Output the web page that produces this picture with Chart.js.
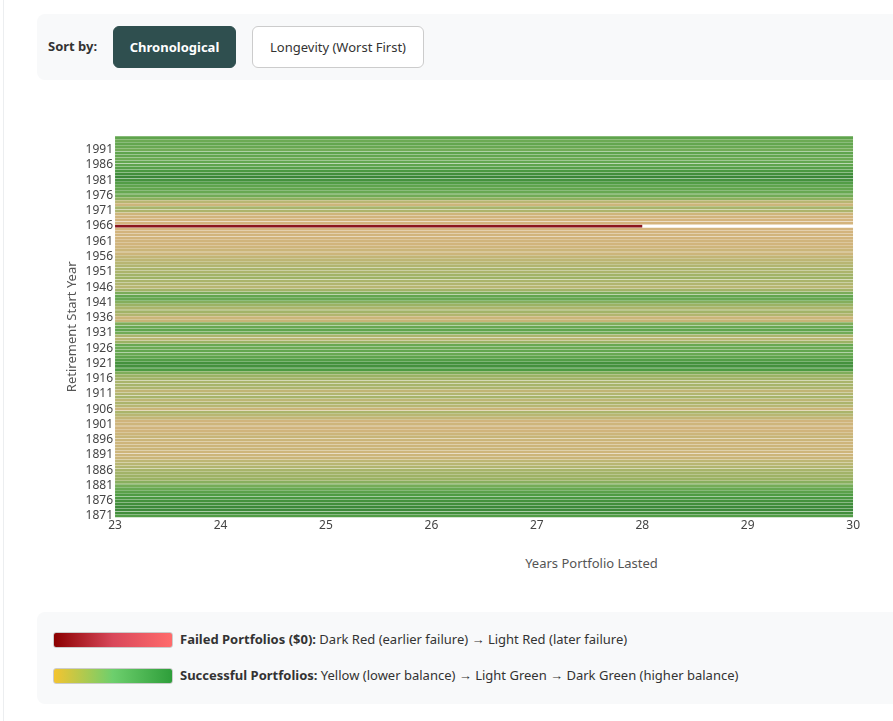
<!DOCTYPE html>
<html>
<head>
<meta charset="utf-8">
<script src="https://cdn.jsdelivr.net/npm/chart.js@4"></script>
<style>
  body { margin: 0; background: #fff; font-family: "Noto Sans", sans-serif; color: #333; overflow: hidden; }
  .page { position: relative; width: 893px; height: 721px; border-left: 1px solid #eceef0; margin-left: 3px; }
  .controls { position: absolute; left: 33px; top: 14px; width: 880px; height: 66px; background: #f8f9fa; border-radius: 8px; }
  .controls .lbl { position: absolute; left: 11px; top: 23px; font-size: 13px; font-weight: bold; color: #333; }
  .btn { position: absolute; top: 12px; height: 42px; box-sizing: border-box; border-radius: 6px; font-size: 13px; line-height: 40px; text-align: center; }
  .btn.on { left: 76px; width: 123px; background: #2f4f4f; color: #fff; font-weight: bold; border: 1px solid #2f4f4f; }
  .btn.off { left: 215px; width: 172px; background: #fff; color: #333; border: 1px solid #ccc; }
  .chartbox { position: absolute; left: 33px; top: 100px; width: 824px; height: 445px; }
  .xtitle { position: absolute; left: 0; width: 1175px; top: 554px; text-align: center; font-size: 13px; color: #555; }
  .legend { position: absolute; left: 33px; top: 612px; width: 880px; height: 92px; background: #f8f9fa; border-radius: 8px; }
  .row { position: absolute; left: 16px; font-size: 13px; color: #333; white-space: nowrap; }
  .sw { display: inline-block; width: 118px; height: 14px; border: 1px solid #ccc; border-radius: 3px; vertical-align: middle; margin-right: 7px; position: relative; top: -1px; }
</style>
</head>
<body>
<div class="page">
  <div class="controls">
    <div class="lbl">Sort by:</div>
    <div class="btn on">Chronological</div>
    <div class="btn off">Longevity (Worst First)</div>
  </div>
  <div class="chartbox"><canvas id="chart1"></canvas></div>
  <div class="xtitle">Years Portfolio Lasted</div>
  <div class="legend">
    <div class="row" style="top:18px"><span class="sw" style="background:linear-gradient(to right,#8b0000,#d9485a,#ff6b6b)"></span><b>Failed Portfolios ($0):</b> Dark Red (earlier failure) → Light Red (later failure)</div>
    <div class="row" style="top:54px"><span class="sw" style="background:linear-gradient(to right,#f4c430,#6dcf6d,#2e9e3a)"></span><b>Successful Portfolios:</b> Yellow (lower balance) → Light Green → Dark Green (higher balance)</div>
  </div>
</div>
<script>
// start years 1871..1995
var startYears = [
  1871,1872,1873,1874,1875,1876,1877,1878,1879,1880,
  1881,1882,1883,1884,1885,1886,1887,1888,1889,1890,
  1891,1892,1893,1894,1895,1896,1897,1898,1899,1900,
  1901,1902,1903,1904,1905,1906,1907,1908,1909,1910,
  1911,1912,1913,1914,1915,1916,1917,1918,1919,1920,
  1921,1922,1923,1924,1925,1926,1927,1928,1929,1930,
  1931,1932,1933,1934,1935,1936,1937,1938,1939,1940,
  1941,1942,1943,1944,1945,1946,1947,1948,1949,1950,
  1951,1952,1953,1954,1955,1956,1957,1958,1959,1960,
  1961,1962,1963,1964,1965,1966,1967,1968,1969,1970,
  1971,1972,1973,1974,1975,1976,1977,1978,1979,1980,
  1981,1982,1983,1984,1985,1986,1987,1988,1989,1990,
  1991,1992,1993,1994,1995
];

// years the portfolio lasted (30 = full horizon)
var yearsLasted = [
  30,30,30,30,30,30,30,30,30,30,
  30,30,30,30,30,30,30,30,30,30,
  30,30,30,30,30,30,30,30,30,30,
  30,30,30,30,30,30,30,30,30,30,
  30,30,30,30,30,30,30,30,30,30,
  30,30,30,30,30,30,30,30,30,30,
  30,30,30,30,30,30,30,30,30,30,
  30,30,30,30,30,30,30,30,30,30,
  30,30,30,30,30,30,30,30,30,30,
  30,30,30,30,30,28,30,30,30,30,
  30,30,30,30,30,30,30,30,30,30,
  30,30,30,30,30,30,30,30,30,30,
  30,30,30,30,30
];

// relative ending balance (0 = lowest, 100 = highest)
var endBalance = [
  82,92,95,95,92,90,86,84,78,72,
  66,58,50,48,45,42,35,30,25,12,
  10,8,12,10,8,12,15,10,6,5,
  8,6,20,30,40,12,30,38,25,42,
  35,22,38,42,40,45,50,62,85,90,
  90,82,76,72,74,70,72,50,30,38,
  68,76,72,62,15,12,35,45,40,50,
  60,72,74,64,45,30,35,40,48,45,
  38,40,35,30,25,20,10,12,8,5,
  6,4,5,3,2,0,2,3,5,8,
  38,42,10,30,56,68,72,74,76,82,
  90,96,92,86,80,76,74,70,74,76,
  68,72,74,70,76
];

var failColor = 'rgb(140, 22, 30)';
var stops = [
  [0,   [214, 180, 126]],
  [30,  [184, 182, 114]],
  [50,  [155, 178, 100]],
  [70,  [108, 170, 84]],
  [85,  [76, 154, 66]],
  [100, [52, 128, 52]]
];

function balanceColor(b) {
  for (var i = 1; i < stops.length; i++) {
    if (b <= stops[i][0]) {
      var a = stops[i - 1], c = stops[i];
      var t = (b - a[0]) / (c[0] - a[0]);
      var rgb = [0, 1, 2].map(function (k) { return Math.round(a[1][k] + (c[1][k] - a[1][k]) * t); });
      return 'rgb(' + rgb.join(',') + ')';
    }
  }
  return 'rgb(52,128,52)';
}

var colors = yearsLasted.map(function (v, i) {
  return v < 30 ? failColor : balanceColor(endBalance[i]);
});

var ctx = document.getElementById('chart1').getContext('2d');
var myChart1 = new Chart(ctx, {
  type: 'bar',
  data: {
    labels: startYears,
    datasets: [{
      label: 'Years Lasted',
      data: yearsLasted,
      backgroundColor: colors,
      borderWidth: 0,
      barPercentage: 1,
      categoryPercentage: 0.9
    }]
  },
  options: {
    indexAxis: 'y',
    responsive: true,
    maintainAspectRatio: false,
    animation: false,
    layout: { padding: { top: 36, right: 0, bottom: 11, left: 23 } },
    plugins: { legend: { display: false }, tooltip: { enabled: false } },
    scales: {
      x: {
        min: 23,
        max: 30,
        grid: { display: false, drawTicks: false },
        border: { display: false },
        ticks: { stepSize: 1, color: '#444', font: { family: 'Noto Sans', size: 12 }, padding: 1 }
      },
      y: {
        reverse: true,
        grid: { display: false, drawTicks: false },
        border: { display: false },
        title: { display: true, text: 'Retirement Start Year', color: '#555', font: { family: 'Noto Sans', size: 13 } },
        ticks: {
          autoSkip: false,
          color: '#444',
          padding: 2,
          font: { family: 'Noto Sans', size: 12 },
          callback: function (val, idx) { return idx % 5 === 0 ? this.getLabelForValue(val) : null; }
        }
      }
    }
  }
});
</script>
</body>
</html>
